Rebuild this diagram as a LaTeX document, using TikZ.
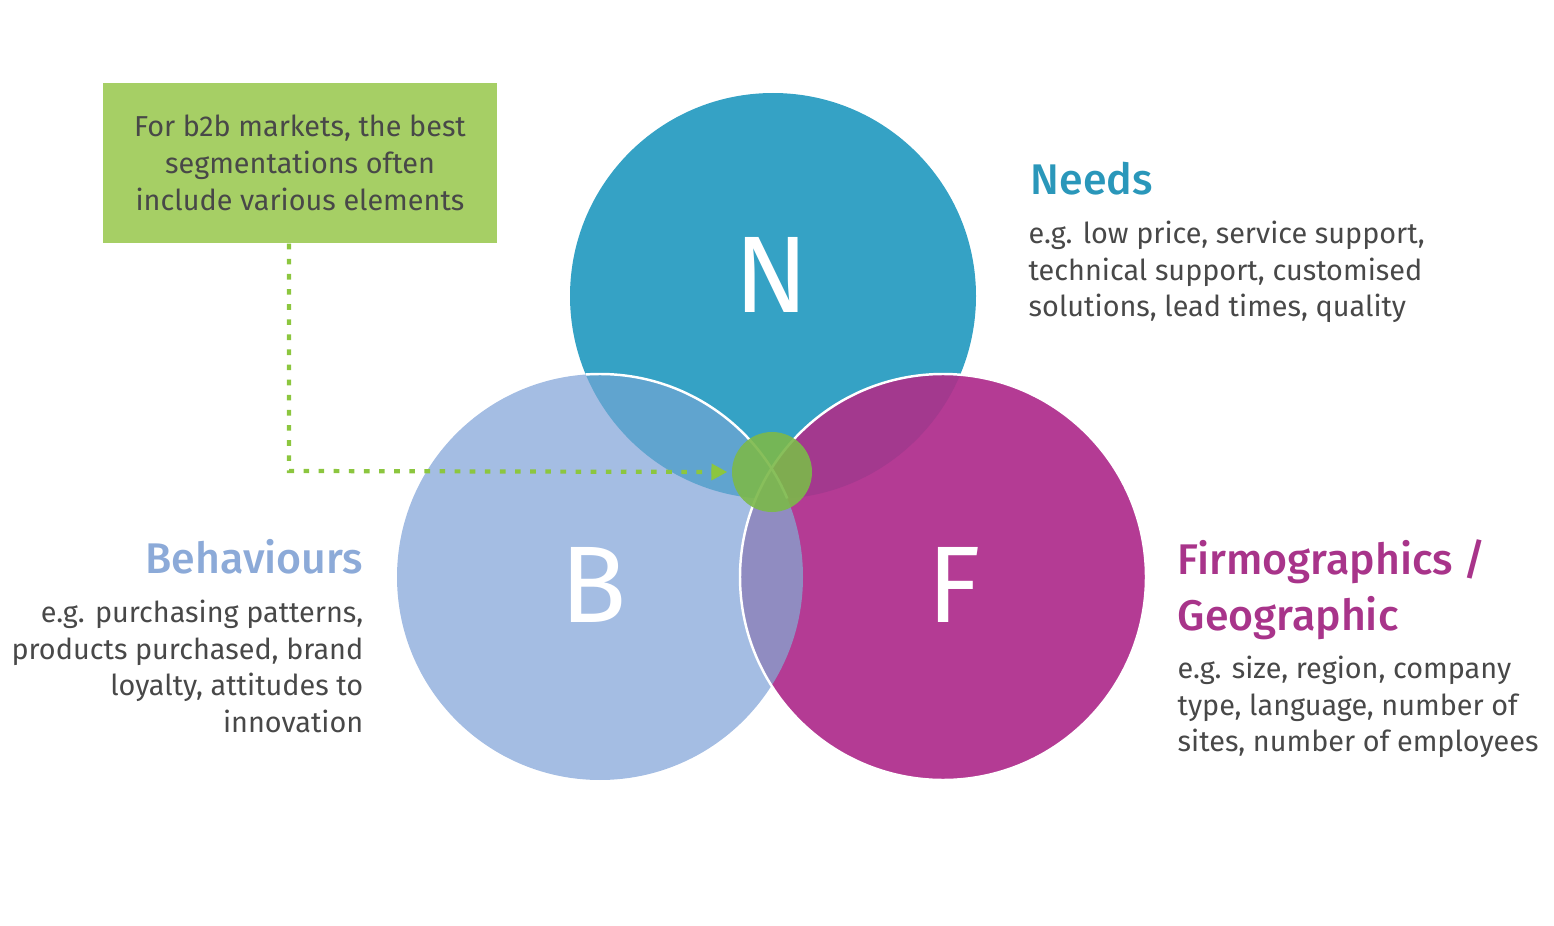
\documentclass[tikz,border=0pt]{standalone}
\usepackage{fontspec}
\setmainfont{Fira Sans}
\newfontfamily\firamedium{Fira Sans Medium}
\usepackage{xcolor}
\definecolor{needsblue}{RGB}{53,162,197}
\definecolor{behavblue}{RGB}{164,189,227}
\definecolor{firmpink}{RGB}{180,59,148}
\definecolor{needsbehav}{RGB}{96,164,207}
\definecolor{needsfirm}{RGB}{163,57,142}
\definecolor{behavfirm}{RGB}{144,140,193}
\definecolor{hubgreen}{RGB}{124,185,74}
\definecolor{boxgreen}{RGB}{166,207,101}
\definecolor{guidegreen}{RGB}{140,198,63}
\definecolor{textgray}{RGB}{72,72,72}
\definecolor{needshead}{RGB}{42,151,186}
\definecolor{behavhead}{RGB}{140,170,216}
\definecolor{firmhead}{RGB}{168,52,138}
\usetikzlibrary{positioning, arrows.meta}
\tikzset{
	venn/.style={circle, minimum size=40.6mm, inner sep=0pt},
	letter/.style={inner sep=0pt, text=white, font=\fontsize{31}{31}\selectfont}
}
\tikzset{
	heading/.style={inner sep=0pt, font=\firamedium\fontsize{12.2}{16}\selectfont},
	blurb/.style={inner sep=0pt, text=textgray, font=\fontsize{8.2}{10.5}\selectfont},
	guide/.style={draw=guidegreen, line width=1.2pt, dash pattern=on 1.6pt off 2.7pt, -{Triangle[length=4.5pt,width=4.5pt]}}
}

\begin{document}
\begin{tikzpicture}[x=0.1mm, y=-0.1mm]
		\useasboundingbox (0, 0) rectangle (1554, 926);
		\newcommand{\vennrad}{20.3mm}

		% the three circles
		\node[venn, fill=needsblue] (N) at (773, 296) {};
		\node[venn, fill=behavblue] (B) at (600, 577) {};
		\node[venn, fill=firmpink] (F) at (943, 577) {};

		% overlaps
		\begin{scope}
			\clip (N.center) circle[radius=\vennrad];
			\fill[needsbehav] (B.center) circle[radius=\vennrad];
			\fill[needsfirm] (F.center) circle[radius=\vennrad];
		\end{scope}
		\begin{scope}
			\clip (B.center) circle[radius=\vennrad];
			\fill[behavfirm] (F.center) circle[radius=\vennrad];
		\end{scope}

		% white rims
		\begin{scope}
			\clip (N.center) circle[radius=\vennrad];
			\draw[white, line width=0.7pt] (B.center) circle[radius=\vennrad];
		\end{scope}
		\draw[white, line width=0.7pt] (F.center) circle[radius=\vennrad];

		% letters
		\node[letter] (Nletter) at (772, 275) {N};
		\node[letter] (Bletter) at (594, 585) {B};
		\node[letter] (Fletter) at (954, 585) {F};

		% centre where all three meet
		\node[circle, minimum size=8mm, inner sep=0pt, fill=hubgreen, fill opacity=0.9] (hub) at (772, 472) {};

		% note box
		\node[fill=boxgreen, minimum width=39.4mm, minimum height=16mm, align=center, text=textgray, font=\fontsize{8.2}{10.5}\selectfont] (note) at (300, 163) {For b2b markets, the best\\segmentations often\\include various elements};

		% pointer from note to centre
		\coordinate (bend) at (289, 471);
		\draw[guide, shorten >=0.4mm] (note.south -| bend) -- (bend) -- (hub.west);

		% needs
		\node[heading, anchor=north west, text=needshead] (needs) at (1030, 161) {Needs};
		\node[blurb, anchor=north west, align=left] (needstext) at (1028, 220) {e.g. low price, service support,\\technical support, customised\\solutions, lead times, quality};

		% behaviours
		\node[heading, anchor=north east, text=behavhead] (behav) at (364, 539) {Behaviours};
		\node[blurb, anchor=north east, align=right] (behavtext) at (364, 599) {e.g. purchasing patterns,\\products purchased, brand\\loyalty, attitudes to\\innovation};

		% firmographics
		\node[heading, anchor=north west, align=left, text=firmhead] (firm) at (1177, 539) {Firmographics /\\Geographic};
		\node[blurb, anchor=north west, align=left] (firmtext) at (1177, 655) {e.g. size, region, company\\type, language, number of\\sites, number of employees};

	\end{tikzpicture}
\end{document}
